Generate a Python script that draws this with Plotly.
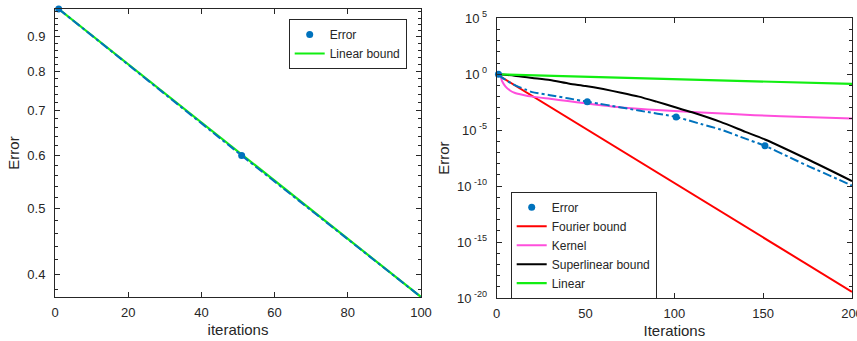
import plotly.graph_objects as go

# ---------------- Left panel data ----------------
left_iter = [1, 51, 100]
left_error = [0.990, 0.600, 0.370]
left_marker_iter = [1, 51]
left_marker_error = [0.990, 0.600]
left_linear_iter = [1, 100]
left_linear = [0.990, 0.370]
left_xticks = [0, 20, 40, 60, 80, 100]
left_yticks = [0.4, 0.5, 0.6, 0.7, 0.8, 0.9]
left_yticklabels = ["0.4", "0.5", "0.6", "0.7", "0.8", "0.9"]

# ---------------- Right panel data ----------------
err_iter = [1, 3, 5, 8, 12, 16, 20, 30, 40, 51, 58, 65, 80, 101, 115, 126, 140, 151, 165, 176, 190, 200]
err_vals = [1.0, 0.50, 0.316, 0.158, 0.0794, 0.0447, 0.0251, 0.0135, 7.08e-3, 3.55e-3, 2.3e-3,
            1.48e-3, 5.62e-4, 1.51e-4, 3.55e-5, 1.15e-5, 1.74e-6, 3.98e-7, 3.63e-8, 5.62e-9,
            5.75e-10, 1.12e-10]
err_marker_iter = [1, 51, 101, 151]
err_marker_vals = [1.0, 3.55e-3, 1.51e-4, 3.98e-7]

fourier_iter = [0, 200]
fourier_vals = [1.0, 3.55e-20]

kernel_iter = [1, 2, 3, 5, 7.5, 10, 15, 20, 30, 40, 50, 60, 70, 85, 100, 130, 160, 200]
kernel_vals = [1.58, 0.79, 0.25, 0.0794, 0.0355, 0.0224, 0.0141, 0.0100, 6.3e-3, 3.98e-3,
               2.51e-3, 1.58e-3, 1.07e-3, 7.1e-4, 5.25e-4, 2.88e-4, 1.74e-4, 1.12e-4]

super_iter = [0, 10, 20, 30, 41, 50, 60, 70, 80, 90, 100, 110, 126, 140, 151, 175, 200]
super_vals = [1.0, 0.75, 0.468, 0.30, 0.141, 0.089, 0.047, 0.0224, 0.01, 3.55e-3, 1.2e-3,
              3.98e-4, 5.5e-5, 7.08e-6, 1.48e-6, 2.51e-8, 2.82e-10]

linear_iter = [0, 200]
linear_vals = [1.0, 0.135]

right_xticks = [0, 50, 100, 150, 200]
right_yticks = [1e-20, 1e-15, 1e-10, 1e-5, 1e0, 1e5]
right_yticklabels = ["10<sup> -20</sup>", "10<sup> -15</sup>", "10<sup> -10</sup>",
                     "10<sup> -5</sup>", "10<sup> 0</sup>", "10<sup> 5</sup>"]

BLUE = "#0072BD"
RED = "#FF0000"
MAGENTA = "#FF4FDC"
BLACK = "#000000"
GREEN = "#12EE12"
INK = "#262626"
FONT = "Liberation Sans, Arial, Helvetica, sans-serif"

fig = go.Figure()

# Left panel
fig.add_trace(go.Scatter(x=left_linear_iter, y=left_linear, mode="lines",
                         line=dict(color=GREEN, width=2.2), name="Linear bound",
                         legend="legend", legendrank=2, xaxis="x", yaxis="y"))
fig.add_trace(go.Scatter(x=left_iter, y=left_error, mode="lines",
                         line=dict(color=BLUE, width=2, dash="dashdot"), showlegend=False,
                         xaxis="x", yaxis="y"))
fig.add_trace(go.Scatter(x=left_marker_iter, y=left_marker_error, mode="markers",
                         marker=dict(color=BLUE, size=7), name="Error", cliponaxis=False,
                         legend="legend", legendrank=1, xaxis="x", yaxis="y"))

# Right panel
fig.add_trace(go.Scatter(x=fourier_iter, y=fourier_vals, mode="lines",
                         line=dict(color=RED, width=2), name="Fourier bound",
                         legend="legend2", legendrank=2, xaxis="x2", yaxis="y2"))
fig.add_trace(go.Scatter(x=kernel_iter, y=kernel_vals, mode="lines",
                         line=dict(color=MAGENTA, width=2, shape="spline", smoothing=0.6),
                         name="Kernel", legend="legend2", legendrank=3, xaxis="x2", yaxis="y2"))
fig.add_trace(go.Scatter(x=super_iter, y=super_vals, mode="lines",
                         line=dict(color=BLACK, width=2, shape="spline", smoothing=0.6),
                         name="Superlinear bound", legend="legend2", legendrank=4,
                         xaxis="x2", yaxis="y2"))
fig.add_trace(go.Scatter(x=linear_iter, y=linear_vals, mode="lines",
                         line=dict(color=GREEN, width=2.2), name="Linear",
                         legend="legend2", legendrank=5, xaxis="x2", yaxis="y2"))
fig.add_trace(go.Scatter(x=err_iter, y=err_vals, mode="lines",
                         line=dict(color=BLUE, width=2, dash="dashdot", shape="spline", smoothing=0.6),
                         showlegend=False, xaxis="x2", yaxis="y2"))
fig.add_trace(go.Scatter(x=err_marker_iter, y=err_marker_vals, mode="markers",
                         marker=dict(color=BLUE, size=7), name="Error", cliponaxis=False,
                         legend="legend2", legendrank=1, xaxis="x2", yaxis="y2"))

axis_common = dict(showline=True, linecolor=INK, linewidth=1, mirror="ticks",
                   ticks="inside", ticklen=5, tickcolor=INK, tickwidth=1,
                   showgrid=False, zeroline=False, automargin=False,
                   ticklabeloverflow="allow",
                   tickfont=dict(size=13, color=INK, family=FONT))

left_minor = [0.38, 0.42, 0.44, 0.46, 0.48, 0.52, 0.54, 0.56, 0.58, 0.62, 0.64, 0.66,
              0.68, 0.72, 0.74, 0.76, 0.78, 0.82, 0.84, 0.86, 0.88, 0.92, 0.94, 0.96, 0.98]
right_minor = [10.0 ** k for k in range(-20, 6)]

fig.update_layout(
    width=857, height=341,
    margin=dict(l=0, r=0, t=0, b=0, autoexpand=False),
    paper_bgcolor="white", plot_bgcolor="white",
    font=dict(family=FONT, color=INK, size=13),
    xaxis=dict(domain=[55 / 857, 421 / 857], range=[0, 100], tickvals=left_xticks,
               title=dict(text="iterations", font=dict(size=15), standoff=5),
               ticklabelstandoff=3, anchor="y", **axis_common),
    yaxis=dict(domain=[44 / 341, 332 / 341], type="log", range=[-0.4318, -0.00436],
               tickvals=left_yticks, ticktext=left_yticklabels,
               minor=dict(tickmode="array", tickvals=left_minor, ticks="inside",
                          ticklen=3, tickcolor=INK),
               title=dict(text="Error", font=dict(size=15), standoff=4),
               ticklabelstandoff=6, anchor="x", **axis_common),
    xaxis2=dict(domain=[496.7 / 857, 852 / 857], range=[0, 200], tickvals=right_xticks,
                title=dict(text="Iterations", font=dict(size=15), standoff=5),
                ticklabelstandoff=3, anchor="y2", **axis_common),
    yaxis2=dict(domain=[43 / 341, 322.7 / 341], type="log", range=[-20, 5],
                tickvals=right_yticks, ticktext=right_yticklabels,
                minor=dict(tickmode="array", tickvals=right_minor, ticks="inside",
                           ticklen=3, tickcolor=INK),
                title=dict(text="Error", font=dict(size=15), standoff=3),
                ticklabelstandoff=6, anchor="x2", **axis_common),
    legend=dict(x=288.7 / 857, y=1 - 19 / 341, xanchor="left", yanchor="top",
                bgcolor="white", bordercolor=INK, borderwidth=1,
                font=dict(size=12, color=INK, family=FONT),
                tracegroupgap=0, itemwidth=30),
    legend2=dict(x=510.7 / 857, y=1 - 191.7 / 341, xanchor="left", yanchor="top",
                 bgcolor="white", bordercolor=INK, borderwidth=1,
                 font=dict(size=12, color=INK, family=FONT),
                 tracegroupgap=0, itemwidth=30),
)

fig.write_html("out.html")
